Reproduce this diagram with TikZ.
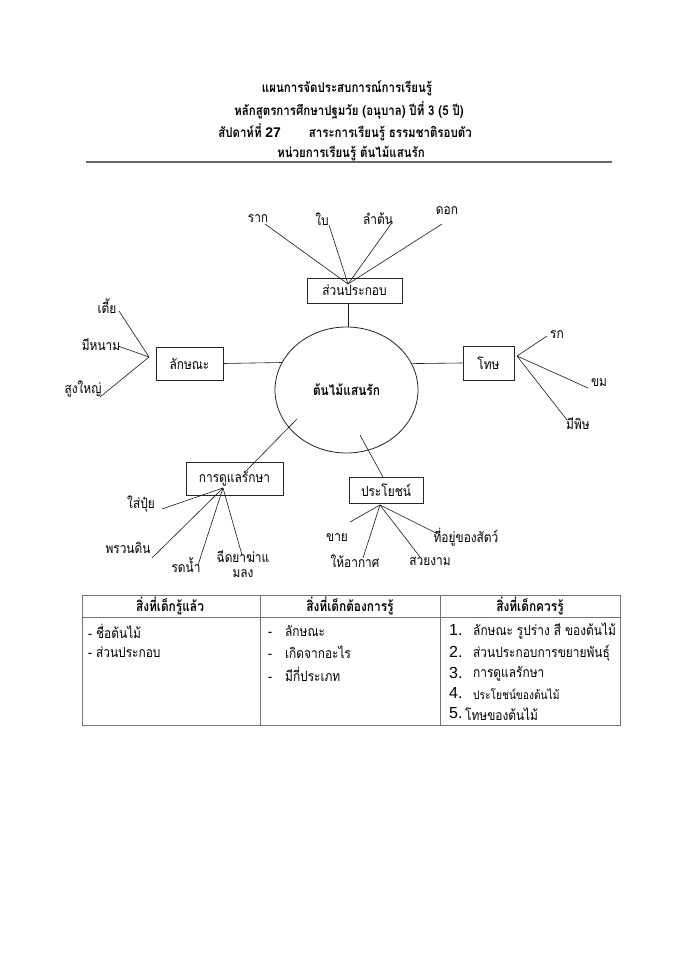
\documentclass[tikz,border=0pt]{standalone}
\usepackage{fontspec}
\setmainfont[Script=Thai, FakeStretch=0.85]{Loma}
\newfontfamily\arialf{Liberation Sans}
\usetikzlibrary{shapes.geometric}
\newcommand\lblfont{\fontsize{14}{15}\selectfont}
\newcommand\ttlfont{\fontsize{13.5}{15}\selectfont\bfseries}
\begin{document}
\begin{tikzpicture}[x=1pt,y=-1pt,
  lbl/.style={inner sep=0pt, font=\lblfont},
  boxnode/.style={draw=black!85, line width=0.9pt, inner sep=0pt, font=\lblfont},
  link/.style={line width=0.6pt, black!90},
  ttl/.style={inner sep=0pt, font=\ttlfont},
  tbl/.style={draw=black!55, line width=0.9pt},
  cell/.style={inner sep=0pt, anchor=west, font=\lblfont},
  hdr/.style={inner sep=0pt, font=\lblfont\bfseries},
  num/.style={inner sep=0pt, anchor=west, font=\arialf\fontsize{16}{17}\selectfont}]
\fill[white] (0,0) rectangle (699,960);
\useasboundingbox (0,0) rectangle (699,960);
% title
\node[ttl] (t1) at (347,88) {แผนการจัดประสบการณ์การเรียนรู้};
\node[ttl] (t2) at (349,110) {หลักสูตรการศึกษาปฐมวัย (อนุบาล) ปีที่ 3 (5 ปี)};
\node[ttl] (t3) at (345,132) {สัปดาห์ที่ {\arialf\fontsize{14}{15}\selectfont 27}\hspace{24pt} สาระการเรียนรู้ ธรรมชาติรอบตัว};
\node[ttl] (t4) at (351,153) {หน่วยการเรียนรู้ ต้นไม้แสนรัก};
\coordinate (rl) at (86,162);
\coordinate (rr) at (612,162);
\draw[line width=1.6pt, black!60] (rl) -- (rr);
% centre
\node[draw=black!85, line width=0.8pt, ellipse, minimum width=143pt, minimum height=126pt, inner sep=0pt, font=\lblfont\bfseries] (c) at (346.5,390) {ต้นไม้แสนรัก};
% boxes
\node[boxnode, minimum width=95pt, minimum height=25pt] (parts) at (354.5,290.5) {ส่วนประกอบ};
\node[boxnode, minimum width=67pt, minimum height=33pt] (char) at (189.5,363.5) {ลักษณะ};
\node[boxnode, minimum width=51pt, minimum height=34pt] (harm) at (488.5,363) {โทษ};
\node[boxnode, minimum width=97pt, minimum height=33pt] (care) at (234.5,478.5) {การดูแลรักษา};
\node[boxnode, minimum width=74pt, minimum height=26pt] (use) at (386,490) {ประโยชน์};
% links centre-box
\draw[link] (c.north -| 348,0) -- (parts.south -| 348,0);
\draw[link] (char.east) -- (c.157.8);
\draw[link] (c.22.7) -- (harm.west);
\coordinate (ca) at (297,419);
\coordinate (cb) at (245,472);
\draw[link] (ca) -- (cb);
\coordinate (ua) at (360,435);
\coordinate (ub) at (383,477);
\draw[link] (ua) -- (ub);
% parts
\coordinate (pc) at (348,284);
\node[lbl] (l1) at (258,219) {ราก};
\node[lbl] (l2) at (322,219) {ใบ};
\node[lbl] (l3) at (378,219) {ลำต้น};
\node[lbl] (l4) at (447,211) {ดอก};
\coordinate (e1) at (265,224);
\coordinate (e2) at (329,225);
\coordinate (e3) at (391,224);
\coordinate (e4) at (442,224);
\foreach \e in {e1,e2,e3,e4} \draw[link] (pc) -- (\e);
% characteristics
\coordinate (cc) at (149,357);
\node[lbl] (m1) at (107,306) {เตี้ย};
\node[lbl] (m2) at (101,345) {มีหนาม};
\node[lbl] (m3) at (83,389) {สูงใหญ่};
\coordinate (f1) at (119,311);
\coordinate (f2) at (118,346);
\coordinate (f3) at (100,397);
\foreach \e in {f1,f2,f3} \draw[link] (cc) -- (\e);
% harm
\coordinate (hc) at (517,356);
\node[lbl] (h1) at (557,335) {รก};
\node[lbl] (h2) at (599,383) {ขม};
\node[lbl] (h3) at (578,424) {มีพิษ};
\coordinate (g1) at (547,336);
\coordinate (g2) at (588,388);
\coordinate (g3) at (567,420);
\foreach \e in {g1,g2,g3} \draw[link] (hc) -- (\e);
% care
\coordinate (kc) at (223,488);
\node[lbl] (k1) at (141,504) {ใส่ปุ๋ย};
\node[lbl] (k2) at (128,548) {พรวนดิน};
\node[lbl] (k3) at (186,565) {รดน้ำ};
\node[lbl, align=center] (k4) at (243,564) {ฉีดยาฆ่าแ\\มลง};
\coordinate (j1) at (162,509);
\coordinate (j2) at (152,558);
\coordinate (j3) at (198,565);
\coordinate (j4) at (242,555);
\foreach \e in {j1,j2,j3,j4} \draw[link] (kc) -- (\e);
% use
\coordinate (uc) at (380,505);
\node[lbl] (u1) at (337,538) {ขาย};
\node[lbl] (u2) at (355,561) {ให้อากาศ};
\node[lbl] (u3) at (430,561) {สวยงาม};
\node[lbl] (u4) at (466,537) {ที่อยู่ของสัตว์};
\coordinate (v1) at (350,522);
\coordinate (v2) at (363,558);
\coordinate (v3) at (420,557);
\coordinate (v4) at (440,535);
\foreach \e in {v1,v2,v3,v4} \draw[link] (uc) -- (\e);
% table
\draw[tbl] (82,595) rectangle (620,725);
\draw[tbl] (82,617) -- (620,617);
\draw[tbl] (260,595) -- (260,725);
\draw[tbl] (440,595) -- (440,725);
\node[hdr] (th1) at (170,606) {สิ่งที่เด็กรู้แล้ว};
\node[hdr] (th2) at (350,606) {สิ่งที่เด็กต้องการรู้};
\node[hdr] (th3) at (530,606) {สิ่งที่เด็กควรรู้};
\node[cell] (a1) at (88,631) {- ชื่อต้นไม้};
\node[cell] (a2) at (88,652) {- ส่วนประกอบ};
\node[cell] (b1) at (268,631) {-\hspace{9pt} ลักษณะ};
\node[cell] (b2) at (268,652) {-\hspace{9pt} เกิดจากอะไร};
\node[cell] (b3) at (268,674) {-\hspace{9pt} มีกี่ประเภท};
\node[num] (n1) at (449,630) {1.};
\node[num] (n2) at (449,652) {2.};
\node[num] (n3) at (449,673) {3.};
\node[num] (n4) at (449,693) {4.};
\node[num] (n5) at (449,713) {5.};
\node[cell] (d1) at (473,631) {ลักษณะ รูปร่าง สี ของต้นไม้};
\node[cell] (d2) at (473,653) {ส่วนประกอบการขยายพันธุ์};
\node[cell] (d3) at (473,674) {การดูแลรักษา};
\node[cell, font=\fontsize{12}{13}\selectfont] (d4) at (473,694) {ประโยชน์ของต้นไม้};
\node[cell] (d5) at (465,714) {โทษของต้นไม้};
\end{tikzpicture}
\end{document}
